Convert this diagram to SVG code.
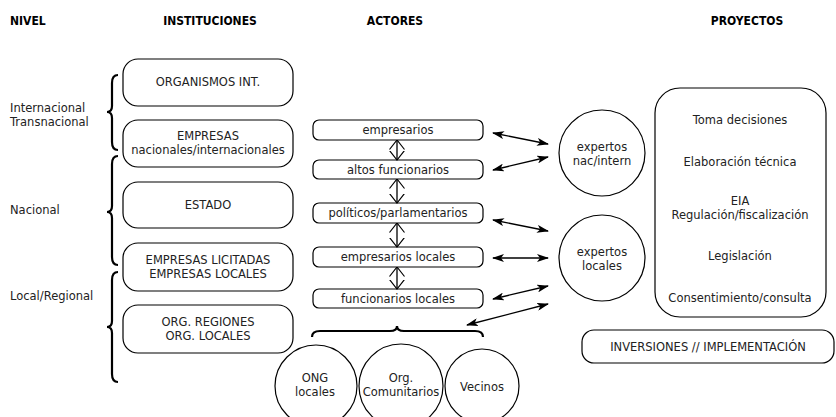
<svg xmlns="http://www.w3.org/2000/svg" width="836" height="417" viewBox="0 0 836 417">
<defs>
<marker id="fa" viewBox="0 0 12 8" refX="11" refY="4" markerWidth="12" markerHeight="8" markerUnits="userSpaceOnUse" orient="auto-start-reverse">
<path d="M0,0 L12,4 L0,8 L3,4 Z" fill="#000"/>
</marker>
<marker id="oa" viewBox="0 0 10 16" refX="9.5" refY="8" markerWidth="10" markerHeight="16" markerUnits="userSpaceOnUse" orient="auto-start-reverse">
<path d="M0,0.5 L9.5,8 L0,15.5" fill="none" stroke="#000" stroke-width="1.2"/>
</marker>
</defs>
<style>
text{font-family:"DejaVu Sans",sans-serif;font-size:11.5px;fill:#222}
.h{font-family:"DejaVu Sans Condensed","DejaVu Sans",sans-serif;font-weight:bold;font-size:12px;fill:#000}
.c{text-anchor:middle}
.box{fill:#fff;stroke:#000;stroke-width:1.2}
.br{fill:none;stroke:#000;stroke-width:2.2}
.ln{fill:none;stroke:#000;stroke-width:1.3}
</style>
<rect width="836" height="417" fill="#fff"/>
<g id="headers">
<text class="h" x="10" y="25">NIVEL</text>
<text class="h c" x="210" y="25">INSTITUCIONES</text>
<text class="h c" x="395" y="25">ACTORES</text>
<text class="h c" x="747" y="25">PROYECTOS</text>
</g>
<g id="niveles">
<text x="10" y="112">Internacional</text>
<text x="10" y="126">Transnacional</text>
<text x="10" y="214">Nacional</text>
<text x="10" y="300">Local/Regional</text>
<path class="br" d="M118,75 Q112,75 112,83 L112,106 Q112,112 107,112 Q112,112 112,118 L112,142 Q112,150 118,150"/>
<path class="br" d="M118,156 Q112,156 112,164 L112,206 Q112,212 107,212 Q112,212 112,218 L112,257 Q112,265 118,265"/>
<path class="br" d="M118,272 Q112,272 112,280 L112,321 Q112,327 107,327 Q112,327 112,333 L112,374 Q112,382 118,382"/>
</g>
<g id="inst-organismos"><rect class="box" x="123" y="59" width="170" height="47" rx="15"/><text class="c" x="208" y="86">ORGANISMOS INT.</text></g>
<g id="inst-empresas"><rect class="box" x="123" y="120" width="170" height="47" rx="15"/><text class="c" x="208" y="140">EMPRESAS</text><text class="c" x="208" y="154">nacionales/internacionales</text></g>
<g id="inst-estado"><rect class="box" x="123" y="182" width="170" height="46" rx="15"/><text class="c" x="208" y="209">ESTADO</text></g>
<g id="inst-licitadas"><rect class="box" x="123" y="243" width="170" height="48" rx="15"/><text class="c" x="208" y="264">EMPRESAS LICITADAS</text><text class="c" x="208" y="278">EMPRESAS LOCALES</text></g>
<g id="inst-regiones"><rect class="box" x="123" y="305" width="170" height="48" rx="15"/><text class="c" x="208" y="326">ORG. REGIONES</text><text class="c" x="208" y="340">ORG. LOCALES</text></g>
<g id="act-empresarios"><rect class="box" x="313" y="120" width="170" height="20" rx="6"/><text class="c" x="398" y="134">empresarios</text></g>
<g id="act-altos"><rect class="box" x="313" y="160" width="170" height="19" rx="6"/><text class="c" x="398" y="174">altos funcionarios</text></g>
<g id="act-politicos"><rect class="box" x="313" y="203" width="170" height="20" rx="6"/><text class="c" x="398" y="217">políticos/parlamentarios</text></g>
<g id="act-emplocales"><rect class="box" x="313" y="247" width="170" height="20" rx="6"/><text class="c" x="398" y="261">empresarios locales</text></g>
<g id="act-funclocales"><rect class="box" x="313" y="289" width="170" height="19" rx="6"/><text class="c" x="398" y="303">funcionarios locales</text></g>
<g id="exp-nac"><circle class="box" cx="602" cy="153" r="43"/><text class="c" x="602" y="151">expertos</text><text class="c" x="602" y="165">nac/intern</text></g>
<g id="exp-loc"><circle class="box" cx="602" cy="258" r="43"/><text class="c" x="602" y="256">expertos</text><text class="c" x="602" y="270">locales</text></g>
<g id="proyectos"><rect class="box" x="655" y="88" width="171" height="229" rx="25"/>
<text class="c" x="740" y="124">Toma decisiones</text>
<text class="c" x="740" y="166">Elaboración técnica</text>
<text class="c" x="740" y="205">EIA</text>
<text class="c" x="740" y="219">Regulación/fiscalización</text>
<text class="c" x="740" y="260">Legislación</text>
<text class="c" x="740" y="302">Consentimiento/consulta</text>
</g>
<g id="inversiones"><rect class="box" x="582" y="330" width="252" height="33" rx="12"/><text class="c" x="708" y="351">INVERSIONES // IMPLEMENTACIÓN</text></g>
<g id="soc-ong"><circle class="box" cx="316" cy="386" r="41"/><text class="c" x="315" y="382">ONG</text><text class="c" x="315" y="396">locales</text></g>
<g id="soc-org"><circle class="box" cx="401" cy="386" r="42"/><text class="c" x="401" y="382">Org.</text><text class="c" x="401" y="396">Comunitarios</text></g>
<g id="soc-vecinos"><circle class="box" cx="482" cy="386" r="37"/><text class="c" x="482" y="391">Vecinos</text></g>
<g id="connectors">
<path class="ln" d="M397,140 L397,160" marker-start="url(#oa)" marker-end="url(#oa)"/>
<path class="ln" d="M397,179 L397,203" marker-start="url(#oa)" marker-end="url(#oa)"/>
<path class="ln" d="M397,223 L397,247" marker-start="url(#oa)" marker-end="url(#oa)"/>
<path class="ln" d="M397,267 L397,289" marker-start="url(#oa)" marker-end="url(#oa)"/>
<path class="ln" d="M493,133 L548,144" marker-start="url(#fa)" marker-end="url(#fa)"/>
<path class="ln" d="M493,170 L548,157" marker-start="url(#fa)" marker-end="url(#fa)"/>
<path class="ln" d="M493,220 L548,231" marker-start="url(#fa)" marker-end="url(#fa)"/>
<path class="ln" d="M493,258 L548,258" marker-start="url(#fa)" marker-end="url(#fa)"/>
<path class="ln" d="M493,299 L548,286" marker-start="url(#fa)" marker-end="url(#fa)"/>
<path class="ln" d="M467,325 L548,304" marker-start="url(#fa)" marker-end="url(#fa)"/>
<path class="br" d="M312,337 Q312,331 320,331 L390,331 Q397,331 397,326 Q397,331 404,331 L475,331 Q483,331 483,337"/>
</g>
</svg>
